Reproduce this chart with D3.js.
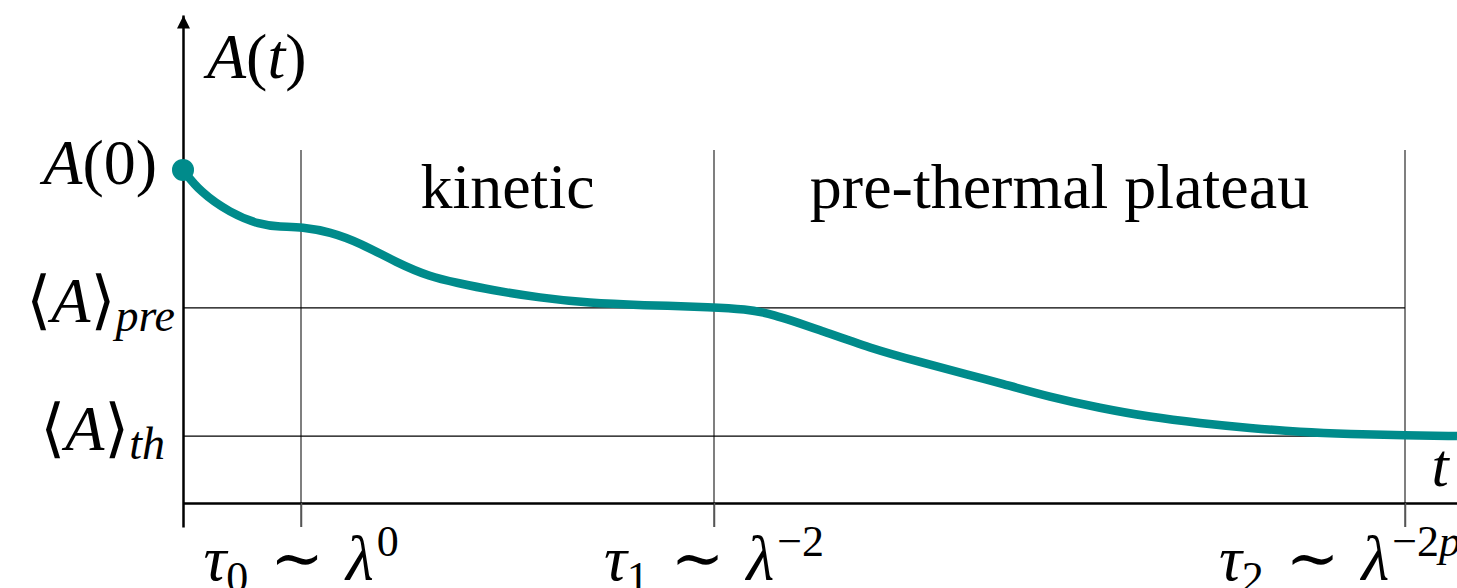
<!DOCTYPE html>
<html>
<head>
<meta charset="utf-8">
<script src="https://cdn.jsdelivr.net/npm/d3@7"></script>
<style>
  body { margin: 0; background: #fff; }
  text { font-family: "Liberation Serif", "DejaVu Serif", serif; fill: #000; }
</style>
</head>
<body>
<div id="chart"></div>
<script>
// curve A(t)
var times = [0, 0.17, 0.47, 0.77, 0.97, 1.19, 1.47, 1.77, 2.14, 2.47, 2.74, 3.07, 3.57, 4.07, 4.57,
  5.32, 5.62, 5.87, 6.37, 6.87, 7.37, 7.87, 8.17, 8.67, 9.17, 9.67, 10.17, 10.67, 11.17, 11.67, 12.22, 12.74];
var values = [1.000, 0.934, 0.871, 0.835, 0.829, 0.829, 0.814, 0.781, 0.721, 0.679, 0.661, 0.640, 0.616, 0.600, 0.594,
  0.588, 0.582, 0.570, 0.519, 0.465, 0.423, 0.384, 0.360, 0.318, 0.285, 0.258, 0.240, 0.225, 0.213, 0.207, 0.203, 0.201];

// time scales tau0, tau1, tau2
var tauTimes = [1.18, 5.31, 12.22];
var tauSubs = ["0", "1", "2"];
var lambdaPows = ["0", "\u22122", "\u22122p"];

// levels on the y axis
var levelValues = [1.0, 0.586, 0.201];
var levelSubs = [null, "pre", "th"];

var regionLabels = ["kinetic", "pre-thermal plateau"];

var width = 1457, height = 588;
var tMax = 12.74, yMin = -0.072, yMax = 1.465, lineTop = 1.06;

var x = d3.scaleLinear().domain([0, tMax]).range([183, 1457]);
var y = d3.scaleLinear().domain([yMin, yMax]).range([527, 15]);

var svg = d3.select('#chart').append('svg')
  .attr('width', width)
  .attr('height', height);

svg.append('defs').append('marker')
  .attr('id', 'arrow')
  .attr('markerUnits', 'userSpaceOnUse')
  .attr('markerWidth', 14).attr('markerHeight', 14)
  .attr('viewBox', '0 -7 14 14')
  .attr('refX', 13).attr('refY', 0)
  .attr('orient', 'auto')
  .append('path')
  .attr('d', 'M0,-6.5L13,0L0,6.5Z')
  .attr('fill', '#000');

// vertical separators at the tau's
svg.selectAll('.sep')
  .data(tauTimes)
  .enter().append('line')
  .attr('class', 'sep')
  .attr('x1', d => x(d)).attr('x2', d => x(d))
  .attr('y1', y(lineTop)).attr('y2', y(yMin))
  .attr('stroke', '#555')
  .attr('stroke-width', 1.5);

// horizontal levels (pre, th)
svg.selectAll('.level')
  .data(levelValues.slice(1))
  .enter().append('line')
  .attr('class', 'level')
  .attr('x1', x(0)).attr('x2', x(tauTimes[2]))
  .attr('y1', d => y(d)).attr('y2', d => y(d))
  .attr('stroke', '#000')
  .attr('stroke-width', 1.3);

// x axis
var xAxis = svg.append('g')
  .attr('transform', 'translate(0,' + y(0) + ')')
  .call(d3.axisBottom(x).tickValues(tauTimes).tickSize(24).tickSizeOuter(0).tickFormat(''));
xAxis.select('.domain').attr('stroke', '#000').attr('stroke-width', 2.5);
xAxis.selectAll('.tick line').attr('stroke', '#555').attr('stroke-width', 1.5);

// y axis with arrow
var yAxis = svg.append('g')
  .attr('transform', 'translate(' + x(0) + ',0)')
  .call(d3.axisLeft(y).tickValues([]).tickSizeOuter(0));
yAxis.select('.domain')
  .attr('stroke', '#000')
  .attr('stroke-width', 2.5)
  .attr('marker-end', 'url(#arrow)');

// the curve
var line = d3.line()
  .x((d, i) => x(times[i]))
  .y(d => y(d))
  .curve(d3.curveBasis);

svg.append('path')
  .datum(values)
  .attr('d', line)
  .attr('fill', 'none')
  .attr('stroke', '#008b8b')
  .attr('stroke-width', 8.5)
  .attr('stroke-linecap', 'butt');

svg.append('circle')
  .attr('cx', x(times[0]))
  .attr('cy', y(values[0]))
  .attr('r', 11)
  .attr('fill', '#008b8b');

// axis titles
var at = svg.append('text')
  .attr('x', x(0) + 24)
  .attr('y', y(yMax) + 63)
  .attr('font-size', 64);
at.append('tspan').attr('font-style', 'italic').text('A');
at.append('tspan').text('(');
at.append('tspan').attr('font-style', 'italic').text('t');
at.append('tspan').text(')');

svg.append('text')
  .attr('x', x(tMax) - 17)
  .attr('y', y(0) - 17)
  .attr('text-anchor', 'middle')
  .attr('font-size', 62)
  .attr('font-style', 'italic')
  .text('t');

// level labels
var labelGap = { A0: 26, pre: 8, th: 18 };
svg.selectAll('.lvl-label')
  .data(levelValues)
  .enter().append('text')
  .attr('class', 'lvl-label')
  .attr('x', (d, i) => x(0) - labelGap[levelSubs[i] || 'A0'])
  .attr('y', d => y(d) + 14)
  .attr('text-anchor', 'end')
  .attr('font-size', 64)
  .each(function(d, i) {
    var t = d3.select(this);
    if (levelSubs[i] === null) {
      t.append('tspan').attr('font-style', 'italic').text('A');
      t.append('tspan').text('(0)');
    } else {
      t.append('tspan').text('\u27e8');
      t.append('tspan').attr('font-style', 'italic').text('A');
      t.append('tspan').text('\u27e9');
      t.append('tspan').attr('font-style', 'italic').attr('font-size', 46)
        .attr('dy', 9).text(levelSubs[i]);
    }
  });

// tau tick labels (the last one is pushed against the right edge)
var lastTau = tauTimes.length - 1;
svg.selectAll('.tau-label')
  .data(tauTimes)
  .enter().append('text')
  .attr('class', 'tau-label')
  .attr('x', (d, i) => i === lastTau ? x(tMax) + 4 : x(d))
  .attr('y', 580)
  .attr('text-anchor', (d, i) => i === lastTau ? 'end' : 'middle')
  .attr('font-size', 64)
  .each(function(d, i) {
    var t = d3.select(this);
    t.append('tspan').attr('font-style', 'italic').text('\u03c4');
    t.append('tspan').attr('font-size', 44).attr('dy', 12).text(tauSubs[i]);
    t.append('tspan').attr('dy', -12).attr('dx', 6).text(' \u223c ');
    t.append('tspan').attr('font-style', 'italic').attr('dx', 6).text('\u03bb');
    var pw = lambdaPows[i];
    var first = true;
    pw.split('').forEach(function(c) {
      var s = t.append('tspan').attr('font-size', 44).text(c);
      if (/[a-z]/.test(c)) s.attr('font-style', 'italic');
      if (first) { s.attr('dy', -24).attr('dx', 3); first = false; }
    });
  });

// region labels
svg.selectAll('.region')
  .data(regionLabels)
  .enter().append('text')
  .attr('class', 'region')
  .attr('x', (d, i) => x((tauTimes[i] + tauTimes[i + 1]) / 2))
  .attr('y', y(lineTop) + 58)
  .attr('text-anchor', 'middle')
  .attr('font-size', 64)
  .text(d => d);
</script>
</body>
</html>
